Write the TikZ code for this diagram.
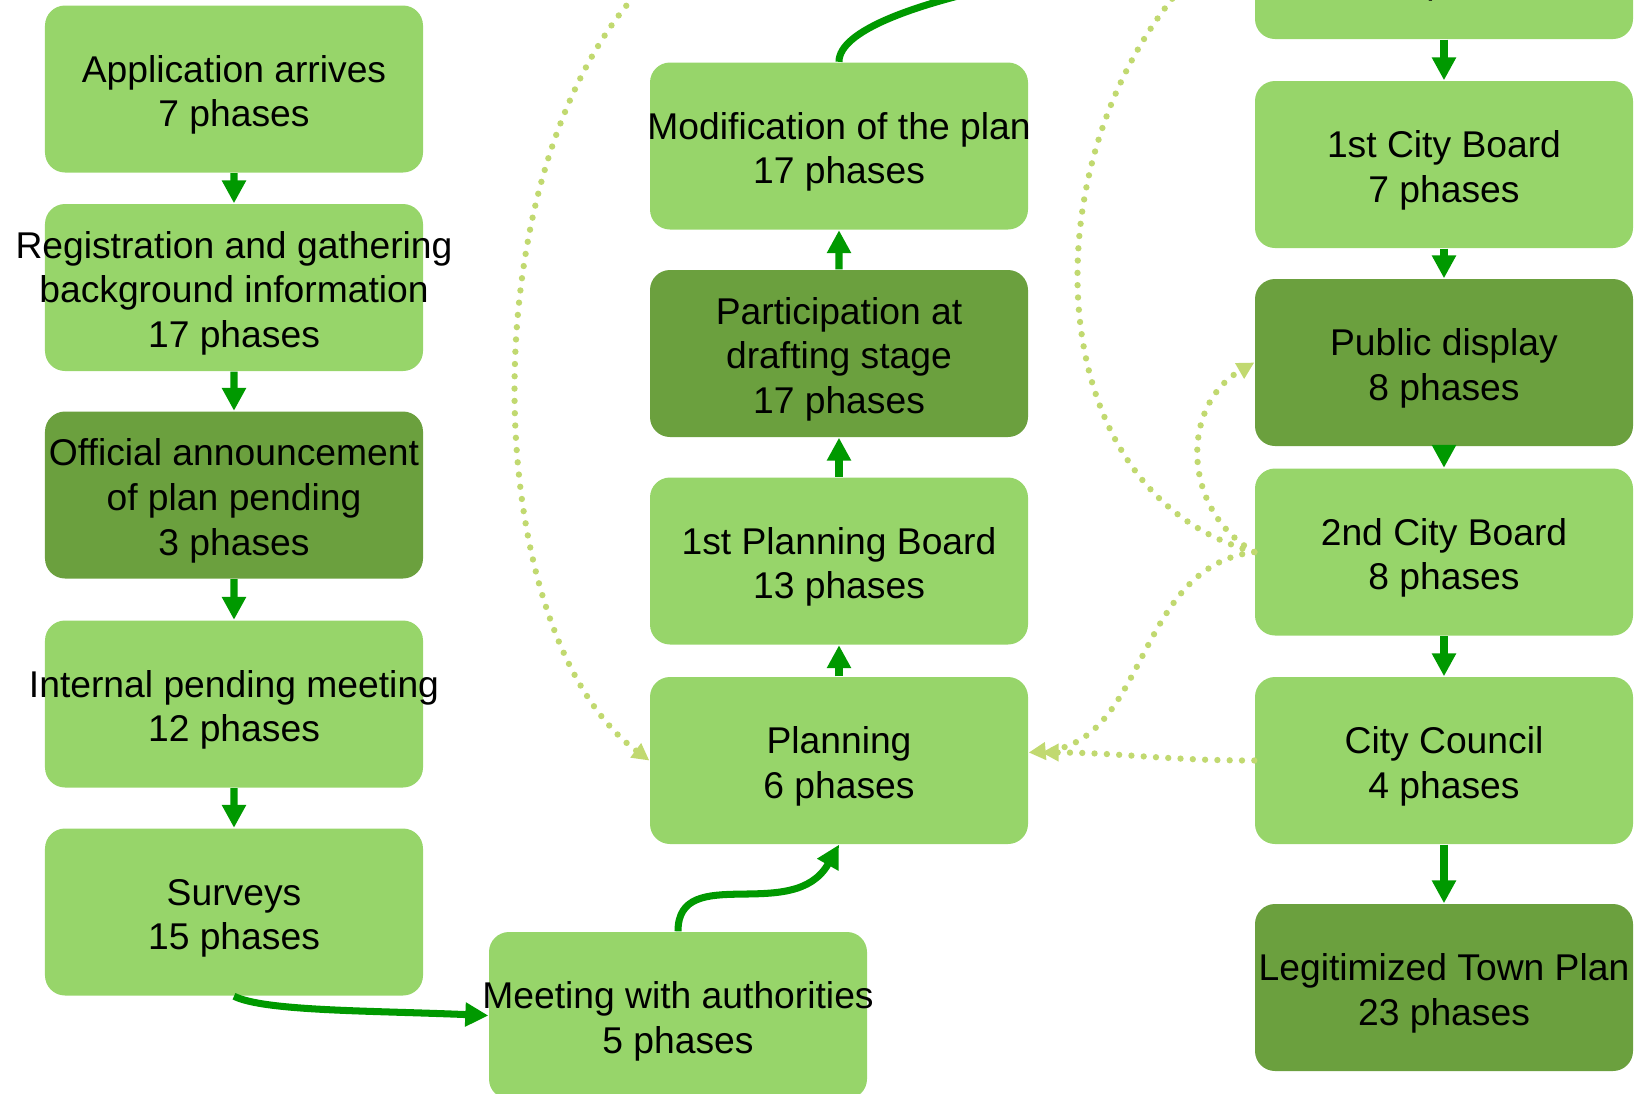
\documentclass[tikz,border=0pt]{standalone}
\usepackage{fontspec}
\setmainfont{Liberation Sans}
\usepackage{tikz}
\usetikzlibrary{arrows.meta,shapes}
\usepackage{xcolor}
\definecolor{plgreen}{RGB}{151,213,106}
\definecolor{pldark}{RGB}{107,160,62}
\definecolor{plarrow}{RGB}{0,153,0}
\definecolor{pldot}{RGB}{193,217,112}
\newcommand{\firstline}{\rule{0pt}{11.0pt}}
\tikzstyle{stage} = [rectangle, rounded corners=0.2cm, minimum width=3.78cm, minimum height=1.67cm, inner xsep=-0.6cm, inner ysep=0pt, text centered, align=center, fill=plgreen, font=\fontsize{10.6pt}{12.7pt}\selectfont]
\tikzstyle{keystage} = [stage, fill=pldark]
\tikzstyle{flowarrow} = [line width=2pt,-{Triangle[length=0.23cm,width=0.23cm]},color=plarrow]
\tikzstyle{dotarrow} = [line width=1.8pt, line cap=round, dash pattern=on 0pt off 3.5pt, -{Triangle[length=0.17cm,width=0.17cm]}, color=pldot]

\begin{document}
\begin{tikzpicture}
\useasboundingbox (0,0) rectangle (16.5,-10.93);
\clip (0,0) rectangle (16.5,-10.93);

% Left column
\node[stage] (app) at (2.34,-0.89) {\firstline Application arrives\\7 phases};
\node[stage] (reg) at (2.34,-2.875) {\firstline Registration and gathering\\background information\\17 phases};
\node[keystage] (ann) at (2.34,-4.95) {\firstline Official announcement\\of plan pending\\3 phases};
\node[stage] (meeting) at (2.34,-7.04) {\firstline Internal pending meeting\\12 phases};
\node[stage] (surv) at (2.34,-9.12) {\firstline Surveys\\15 phases};

% Middle column
\node[stage] (auth) at (6.78,-10.155) {\firstline Meeting with authorities\\5 phases};
\node[stage] (plan) at (8.39,-7.605) {\firstline Planning\\6 phases};
\node[stage] (pb1) at (8.39,-5.61) {\firstline 1st Planning Board\\13 phases};
\node[keystage] (part) at (8.39,-3.535) {\firstline Participation at\\drafting stage\\17 phases};
\node[stage] (mod) at (8.39,-1.46) {\firstline Modification of the plan\\17 phases};

% Right column
\node[stage] (prev) at (14.44,0.445) {\firstline\\\hspace{0.54cm}\phantom{0} phases};
\node[stage] (cb1) at (14.44,-1.645) {\firstline 1st City Board\\7 phases};
\node[keystage] (pub) at (14.44,-3.625) {\firstline Public display\\8 phases};
\node[stage] (cb2) at (14.44,-5.52) {\firstline 2nd City Board\\8 phases};
\node[stage] (council) at (14.44,-7.605) {\firstline City Council\\4 phases};
\node[keystage] (legit) at (14.44,-9.875) {\firstline Legitimized Town Plan\\23 phases};

% Loose ends above the picture
\coordinate (upleft) at (6.6,0.3);
\coordinate (upright) at (12.3,0.6);

% Arrows
\draw[flowarrow] (app) -- (reg);
\draw[flowarrow] (reg) -- (ann);
\draw[flowarrow] (ann) -- (meeting);
\draw[flowarrow] (meeting) -- (surv);
\draw[flowarrow] (surv.south) .. controls +(0.3,-0.15) and +(-1.2,0.05) .. (auth.west);
\draw[flowarrow] (auth.north) .. controls +(0,0.7) and +(-0.45,-0.8) .. (plan.south);
\draw[flowarrow] (plan) -- (pb1);
\draw[flowarrow] (pb1) -- (part);
\draw[flowarrow] (part) -- (mod);
\draw[flowarrow] (mod.north) .. controls +(0,0.63) and +(-1.05,0) .. (prev.west);
\draw[flowarrow] (prev) -- (cb1);
\draw[flowarrow] (cb1) -- (pub);
\draw[flowarrow] (pub) -- (cb2);
\draw[flowarrow] (cb2) -- (council);
\draw[flowarrow] (council) -- (legit);

% Dotted returns
\draw[dotarrow] (upleft) .. controls (4.65,-1.45) and (4.75,-6.3) .. (plan.west);
\draw[dotarrow] (cb2.west) .. controls (10.25,-4.9) and (10.25,-1.2) .. (upright);
\draw[dotarrow] (cb2.west) to[out=150, in=210, looseness=1.15] (pub.west);
\draw[dotarrow] (cb2.west) .. controls +(-1.2,-0.15) and +(1.2,0.1) .. ([yshift=0.8mm]plan.east);
\draw[dotarrow, shorten >=1.3mm] (council.west) to[out=180, in=0] ([yshift=0.8mm]plan.east);
\end{tikzpicture}
\end{document}
